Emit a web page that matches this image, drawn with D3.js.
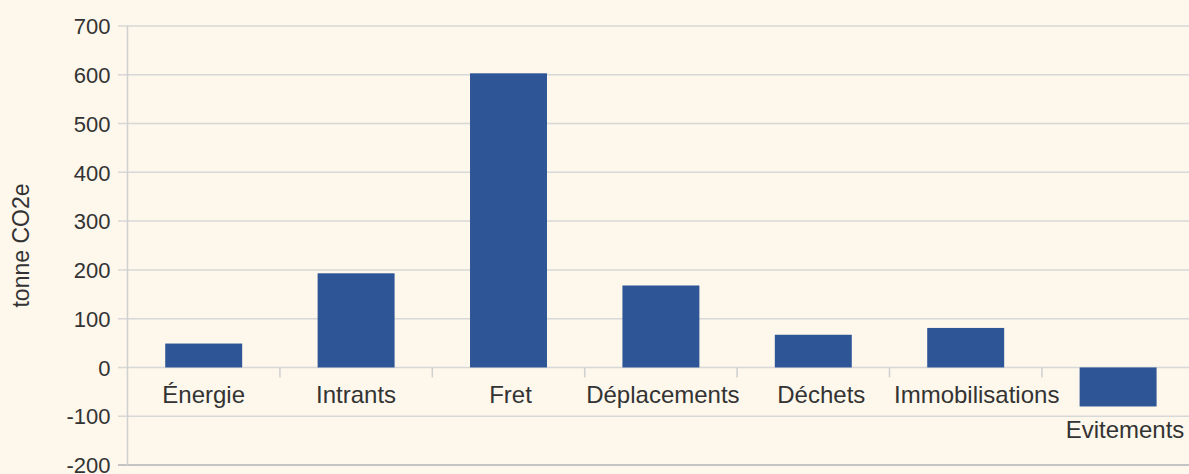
<!DOCTYPE html>
<html><head><meta charset="utf-8">
<script src="https://cdn.jsdelivr.net/npm/d3@7/dist/d3.min.js"></script>
<style>
html,body{margin:0;padding:0;background:#fdf7ec;}
svg{display:block;}
text{font-family:"Liberation Sans",Arial,sans-serif;fill:#333;}
</style></head><body>
<svg id="c" width="1189" height="474"></svg>
<script>
const categories = ["Énergie","Intrants","Fret","Déplacements","Déchets","Immobilisations","Evitements"];
const values = [49, 193, 603, 168, 67, 81, -80];
const yTicks = [-200,-100,0,100,200,300,400,500,600,700];
const yTitle = "tonne CO2e";

const W=1189,H=474;
const m={left:127.5,top:26,bottom:465};
const svg=d3.select("#c");
svg.append("rect").attr("width",W).attr("height",H).attr("fill","#fdf7ec");

const x=d3.scaleBand().domain(categories).range([m.left,m.left+152.4*7]).paddingInner(0.495).paddingOuter(0.2475);
const y=d3.scaleLinear().domain([-200,700]).range([m.bottom,m.top]);

// gridlines
svg.append("g").selectAll("line").data(yTicks).join("line")
  .attr("x1",118).attr("x2",W)
  .attr("y1",d=>y(d)).attr("y2",d=>y(d))
  .attr("stroke",d=>d===-200?"#c4c4c4":"#d8d8d8").attr("stroke-width",d=>d===-200?2:1.5);

// y axis line
svg.append("line").attr("x1",m.left).attr("x2",m.left).attr("y1",y(700)).attr("y2",y(-200))
  .attr("stroke","#d0d0d0").attr("stroke-width",1.5);

// y labels
const yAxis=d3.axisLeft(y).tickValues(yTicks).tickSize(0).tickPadding(17).tickFormat(d=>String(d));
const ga=svg.append("g").attr("transform",`translate(${m.left},0)`).call(yAxis);
ga.select(".domain").remove();
ga.selectAll("text").style("font-size","22px").attr("fill","#333").attr("dy","0.35em");

// bars
svg.append("g").selectAll("rect").data(values).join("rect")
  .attr("x",(d,i)=>x(categories[i]))
  .attr("width",x.bandwidth())
  .attr("y",d=>y(Math.max(0,d)))
  .attr("height",d=>Math.abs(y(d)-y(0)))
  .attr("fill","#2e5596");

// category ticks at zero
const step=x.step();
const bounds=d3.range(1,categories.length).map(i=>m.left+i*step);
svg.append("g").selectAll("line").data(bounds).join("line")
  .attr("x1",d=>d).attr("x2",d=>d).attr("y1",y(0)).attr("y2",y(0)+10)
  .attr("stroke","#d0d0d0").attr("stroke-width",1.5);

// category labels (small horizontal nudges as in the original rendering)
const nudge=[0,0,2,2,8,11,0];
svg.append("g").selectAll("text").data(categories).join("text")
  .attr("x",(d,i)=> values[i]<0 ? W-64 : x(d)+x.bandwidth()/2+nudge[i])
  .attr("y",(d,i)=>values[i]<0? y(values[i])+32 : y(0)+35.5)
  .attr("text-anchor","middle")
  .style("font-size","24px")
  .text(d=>d);

// y title
svg.append("text").attr("transform",`translate(29,${(183+308)/2}) rotate(-90)`)
  .attr("text-anchor","middle").style("font-size","23px").text(yTitle);
</script>
</body></html>
